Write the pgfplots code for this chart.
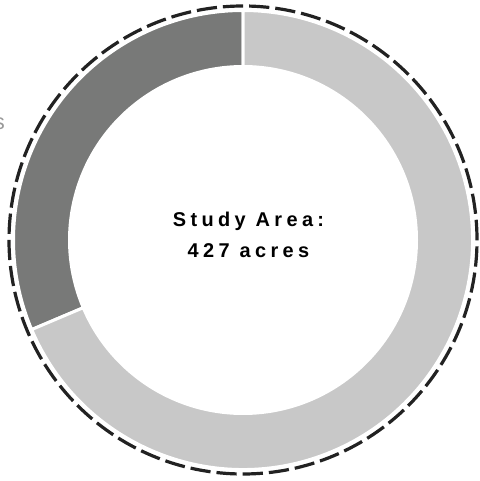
\documentclass[border=0pt]{standalone}
\usepackage{pgfplots}
\pgfplotsset{compat=1.18}
\usepackage{pgfplotstable}
\usepackage{fontspec}
\setmainfont{Liberation Sans}
\newfontfamily\spacedbold[LetterSpace=22]{Liberation Sans Bold}
\definecolor{darkseg}{HTML}{787978}
\definecolor{lightseg}{HTML}{C8C8C8}
\definecolor{dashcol}{HTML}{222222}
\definecolor{legtext}{HTML}{999999}

\pgfplotstableread{
label value
Other 134
Main 293
}\datatable

\begin{document}
\begin{tikzpicture}
\pgfplotstablegetelem{0}{value}\of\datatable \let\vA\pgfplotsretval
\pgfplotstablegetelem{1}{value}\of\datatable \let\vB\pgfplotsretval
\pgfmathsetmacro\fracA{\vA/(\vA+\vB)}
\pgfmathsetmacro\aA{90+360*\fracA}
\def\Ro{229.5}
\def\Ri{173.5}
\useasboundingbox (0,0) rectangle (480bp,481bp);
\begin{axis}[
  x=1bp, y=1bp,
  xmin=-240, xmax=240, ymin=-240, ymax=240,
  hide axis, clip=false,
  anchor=origin, at={(243bp,241bp)},
]
% dark segment
\filldraw[fill=darkseg, draw=white, line width=3bp]
  (axis cs:{\Ro*cos(90)},{\Ro*sin(90)})
  arc[start angle=90, end angle=\aA, radius=\Ro bp]
  -- (axis cs:{\Ri*cos(\aA)},{\Ri*sin(\aA)})
  arc[start angle=\aA, end angle=90, radius=\Ri bp] -- cycle;
% light segment
\filldraw[fill=lightseg, draw=white, line width=3bp]
  (axis cs:{\Ro*cos(\aA)},{\Ro*sin(\aA)})
  arc[start angle=\aA, end angle=450, radius=\Ro bp]
  -- (axis cs:{\Ri*cos(450)},{\Ri*sin(450)})
  arc[start angle=450, end angle=\aA, radius=\Ri bp] -- cycle;
% dashed outline
\draw[dashcol, line width=3.2bp, dash pattern=on 20.25bp off 6bp]
  (axis cs:0,0) circle[radius=234bp];
% centre label
\node[anchor=base, inner sep=0pt, font=\spacedbold\fontsize{20}{24}\selectfont]
  at (axis cs:5.5,13) {Study Area:};
\node[anchor=base, inner sep=0pt, font=\spacedbold\fontsize{20}{24}\selectfont]
  at (axis cs:5.5,-18) {427 acres};
% clipped legend text at the left edge
\node[anchor=base east, inner sep=0pt, text=legtext, font=\fontsize{22}{26}\selectfont]
  at (axis cs:-238,110) {Acres};
\end{axis}
\end{tikzpicture}
\end{document}
